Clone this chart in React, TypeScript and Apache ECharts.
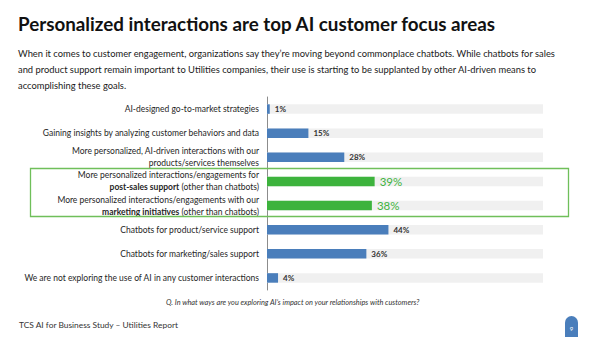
import React, { useEffect, useRef } from "react";
import * as echarts from "echarts";

const categories: string[] = [
  "{n|AI-designed go-to-market strategies}",
  "{n|Gaining insights by analyzing customer behaviors and data}",
  "{n|More personalized, AI-driven interactions with our}\n{n|products/services themselves}",
  "{n|More personalized interactions/engagements for}\n{b|post-sales support}{n| (other than chatbots)}",
  "{n|More personalized interactions/engagements with our}\n{b|marketing initiatives}{n| (other than chatbots)}",
  "{n|Chatbots for product/service support}",
  "{n|Chatbots for marketing/sales support}",
  "{n|We are not exploring the use of AI in any customer interactions}",
];
const values: number[] = [1, 15, 28, 39, 38, 44, 36, 4];
const highlighted: boolean[] = [false, false, false, true, true, false, false, false];

const TITLE = "Personalized interactions are top AI customer focus areas";
const BODY = [
  "When it comes to customer engagement, organizations say they\u2019re moving beyond commonplace chatbots. While chatbots for sales",
  "and product support remain important to Utilities companies, their use is starting to be supplanted by other AI-driven means to",
  "accomplishing these goals.",
];
const QUESTION = "Q. In what ways are you exploring AI\u2019s impact on your relationships with customers?";
const FOOTER = "TCS AI for Business Study \u2013 Utilities Report";
const PAGE = "9";

const FONT = "Lato";
const BLUE = "#4a7ebb";
const GREEN = "#3db33d";

export default function App() {
  const ref = useRef<HTMLDivElement>(null);
  useEffect(() => {
    if (!ref.current) return;
    const chart = echarts.init(ref.current, null, { renderer: "svg" });
    chart.setOption({
      animation: false,
      backgroundColor: "#ffffff",
      textStyle: { fontFamily: FONT },
      grid: { left: 267, right: 57, top: 97, bottom: 47, containLabel: false },
      xAxis: {
        type: "value",
        min: 0,
        max: 100,
        show: false,
      },
      yAxis: {
        type: "category",
        inverse: true,
        data: categories,
        axisLine: { show: true, lineStyle: { color: "#8c8c8c", width: 1 } },
        axisTick: { show: false },
        axisLabel: {
          margin: 8,
          align: "right",
          lineHeight: 12,
          rich: {
            n: { fontFamily: FONT, fontSize: 8.5, color: "#262626", lineHeight: 12 },
            b: { fontFamily: FONT, fontSize: 8.5, color: "#262626", fontWeight: "bold", lineHeight: 12 },
          },
        },
      },
      series: [
        {
          type: "bar",
          barWidth: 9.5,
          showBackground: true,
          backgroundStyle: { color: "#f0f0f0" },
          data: values.map((v, i) => ({
            value: v,
            itemStyle: { color: highlighted[i] ? GREEN : BLUE },
            label: highlighted[i]
              ? { fontSize: 11.5, color: GREEN, fontWeight: "normal", distance: 5 }
              : { fontSize: 8, color: "#333333", fontWeight: "bold", distance: 5 },
          })),
          label: {
            show: true,
            position: "right",
            fontFamily: FONT,
            formatter: (p: any) => p.value + "%",
          },
        },
      ],
      graphic: [
        {
          type: "text",
          x: 18,
          y: 23.5,
          style: { text: TITLE, fontFamily: FONT, fontSize: 18.8, fontWeight: "bold", fill: "#111111", verticalAlign: "middle" },
        },
        ...BODY.map((t, i) => ({
          type: "text",
          x: 18,
          y: 53 + i * 16,
          style: { text: t, fontFamily: FONT, fontSize: 9.35, fill: "#1a1a1a", verticalAlign: "middle" },
        })),
        {
          type: "rect",
          shape: { x: 30.5, y: 168.5, width: 538, height: 48 },
          style: { fill: "none", stroke: "#6fbf5a", lineWidth: 1.3 },
          z: 10,
        },
        {
          type: "text",
          x: 166,
          y: 302,
          style: { text: QUESTION, fontFamily: FONT, fontSize: 7.35, fontStyle: "italic", fill: "#333333", verticalAlign: "middle" },
        },
        {
          type: "text",
          x: 19,
          y: 325,
          style: { text: FOOTER, fontFamily: FONT, fontSize: 8.4, fill: "#333333", verticalAlign: "middle" },
        },
        {
          type: "rect",
          shape: { x: 565, y: 316, width: 13, height: 30, r: [6.5, 6.5, 0, 0] },
          style: { fill: BLUE },
        },
        {
          type: "text",
          x: 571.5,
          y: 328,
          style: { text: PAGE, fontFamily: FONT, fontSize: 6, fill: "#ffffff", align: "center", verticalAlign: "middle" },
        },
      ],
    });
    return () => chart.dispose();
  }, []);
  return <div ref={ref} style={{ width: 600, height: 337, position: "fixed", left: 0, top: 0 }} />;
}
